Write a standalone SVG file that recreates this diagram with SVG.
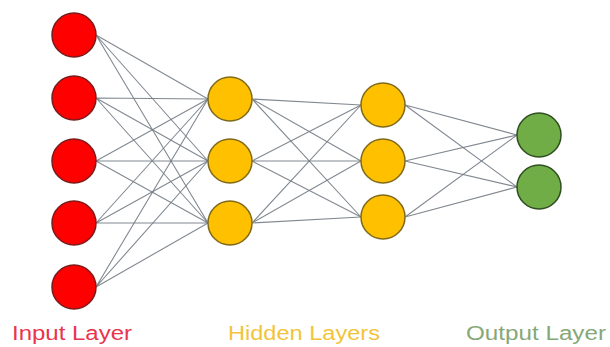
<svg xmlns="http://www.w3.org/2000/svg" width="610" height="347" viewBox="0 0 610 347">
<style>
.e{stroke:#737b84;stroke-width:1.1;fill:none;opacity:0.9}
.in{fill:#ff0000;stroke:#7a1c1c;stroke-width:1.5}
.hid{fill:#ffc000;stroke:#7f6a1a;stroke-width:1.5}
.out{fill:#70ad47;stroke:#2f4f20;stroke-width:1.5}
.lbl{font-family:"Liberation Sans",Arial,sans-serif;font-size:19.5px}
</style>
<rect width="610" height="347" fill="#ffffff"/>
<g id="connectors">
<path class="e" d="M96 35L208 99M96 35L208 161M96 35L208 223"/>
<path class="e" d="M96 98L208 99M96 98L208 161M96 98L208 223"/>
<path class="e" d="M96 161L208 99M96 161L208 161M96 161L208 223"/>
<path class="e" d="M96 223L208 99M96 223L208 161M96 223L208 223"/>
<path class="e" d="M96 287L208 99M96 287L208 161M96 287L208 223"/>
<path class="e" d="M252 99L361 105M252 99L361 161M252 99L361 217"/>
<path class="e" d="M252 161L361 105M252 161L361 161M252 161L361 217"/>
<path class="e" d="M252 223L361 105M252 223L361 161M252 223L361 217"/>
<path class="e" d="M405 105L517 135M405 105L517 187"/>
<path class="e" d="M405 161L517 135M405 161L517 187"/>
<path class="e" d="M405 217L517 135M405 217L517 187"/>
</g>
<g id="input1"><circle class="in" cx="74" cy="35" r="22"/></g>
<g id="input2"><circle class="in" cx="74" cy="98" r="22"/></g>
<g id="input3"><circle class="in" cx="74" cy="161" r="22"/></g>
<g id="input4"><circle class="in" cx="74" cy="223" r="22"/></g>
<g id="input5"><circle class="in" cx="74" cy="287" r="22"/></g>
<g id="hidden1a"><circle class="hid" cx="230" cy="99" r="22"/></g>
<g id="hidden1b"><circle class="hid" cx="230" cy="161" r="22"/></g>
<g id="hidden1c"><circle class="hid" cx="230" cy="223" r="22"/></g>
<g id="hidden2a"><circle class="hid" cx="383" cy="105" r="22"/></g>
<g id="hidden2b"><circle class="hid" cx="383" cy="161" r="22"/></g>
<g id="hidden2c"><circle class="hid" cx="383" cy="217" r="22"/></g>
<g id="output1"><circle class="out" cx="539" cy="135" r="22"/></g>
<g id="output2"><circle class="out" cx="539" cy="187" r="22"/></g>
<g id="labels">
<text class="lbl" x="12" y="340" fill="#e8354d" textLength="120" lengthAdjust="spacingAndGlyphs">Input Layer</text>
<text class="lbl" x="228" y="340" fill="#f2c43a" textLength="152" lengthAdjust="spacingAndGlyphs">Hidden Layers</text>
<text class="lbl" x="466" y="340" fill="#86a878" textLength="140" lengthAdjust="spacingAndGlyphs">Output Layer</text>
</g>
</svg>
